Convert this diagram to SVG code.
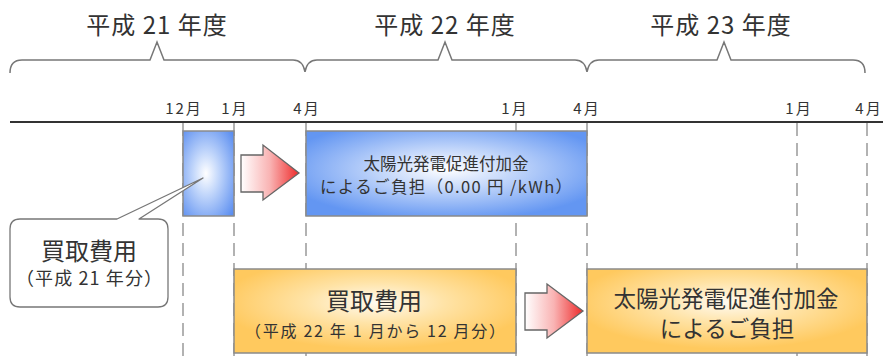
<svg xmlns="http://www.w3.org/2000/svg" width="883" height="362" viewBox="0 0 883 362">
<style>
text{font-family:"Noto Sans CJK JP","Noto Sans",sans-serif;fill:#333;}
.yr{font-size:24px;text-anchor:middle;letter-spacing:1px;}
.mo{font-size:15px;text-anchor:middle;letter-spacing:2px;}
.dash{stroke:#999;stroke-width:1.5;stroke-dasharray:13 7;fill:none;}
.box{stroke:#8a8a8a;stroke-width:1.5;}
.arrow{stroke:#666;stroke-width:1.3;fill:url(#red);}
.t{text-anchor:middle;}
</style>
<defs>
<radialGradient id="blue1" cx="0.45" cy="0.5" r="0.7">
<stop offset="0" stop-color="#ffffff"/>
<stop offset="0.35" stop-color="#c4d8fb"/>
<stop offset="1" stop-color="#5b8ef0"/>
</radialGradient>
<radialGradient id="blue2" cx="0.5" cy="0.45" r="0.6">
<stop offset="0" stop-color="#ffffff"/>
<stop offset="0.4" stop-color="#c2d6fa"/>
<stop offset="1" stop-color="#6396f2"/>
</radialGradient>
<radialGradient id="orange" cx="0.5" cy="0.4" r="0.55">
<stop offset="0" stop-color="#fffaf0"/>
<stop offset="0.45" stop-color="#ffe3a6"/>
<stop offset="1" stop-color="#ffc95e"/>
</radialGradient>
<linearGradient id="red" x1="0" y1="0" x2="1" y2="0">
<stop offset="0" stop-color="#ffffff"/>
<stop offset="0.5" stop-color="#f9b3b3"/>
<stop offset="1" stop-color="#ee2a2a"/>
</linearGradient>
</defs>

<g id="years">
<text class="yr" x="157" y="34">平成 21 年度</text>
<text class="yr" x="445" y="34">平成 22 年度</text>
<text class="yr" x="721" y="34">平成 23 年度</text>
</g>

<g id="braces" fill="none" stroke="#777" stroke-width="1.5">
<path d="M10,73 Q10,60 22,60 L150,60 L157,42 L164,60 L293,60 Q303,60 305,72 Q307,60 317,60 L438,60 L445,42 L452,60 L575,60 Q585,60 587,72 Q589,60 599,60 L717,60 L724,42 L731,60 L853,60 Q865,60 865,73"/>
</g>

<g id="months">
<text class="mo" x="184" y="114">12月</text>
<text class="mo" x="235" y="114">1月</text>
<text class="mo" x="307" y="114">4月</text>
<text class="mo" x="515" y="114">1月</text>
<text class="mo" x="587" y="114">4月</text>
<text class="mo" x="799" y="114">1月</text>
<text class="mo" x="869" y="114">4月</text>
</g>

<g id="connectors">
<line x1="10" y1="122" x2="883" y2="122" stroke="#333" stroke-width="2"/>
<line class="dash" x1="183" y1="123" x2="183" y2="362"/>
<line class="dash" x1="234" y1="123" x2="234" y2="362"/>
<line class="dash" x1="306" y1="123" x2="306" y2="362"/>
<line class="dash" x1="516" y1="123" x2="516" y2="362"/>
<line class="dash" x1="587" y1="123" x2="587" y2="362"/>
<line class="dash" x1="797" y1="123" x2="797" y2="362"/>
<line class="dash" x1="867" y1="123" x2="867" y2="362"/>
</g>

<g id="box-blue-small">
<rect class="box" x="183" y="131" width="51" height="85" fill="url(#blue1)"/>
</g>

<g id="arrow1">
<path class="arrow" d="M241,155 L263,155 L263,145 L299,173 L263,200 L263,192 L241,192 Z"/>
</g>

<g id="box-blue-large">
<rect class="box" x="306" y="131" width="281" height="85" fill="url(#blue2)"/>
<text class="t" x="446" y="170" font-size="16.5">太陽光発電促進付加金</text>
<text class="t" x="446" y="193" font-size="16.5" textLength="252" lengthAdjust="spacing">によるご負担（0.00 円 /kWh）</text>
</g>

<g id="callout">
<path d="M117,219 L20,219 Q10,219 10,229 L10,297 Q10,307 20,307 L158,307 Q168,307 168,297 L168,229 Q168,219 158,219 L139,219 L203,178 Z" fill="#fff" stroke="#777" stroke-width="1.3" stroke-linejoin="round"/>
<text class="t" x="89" y="260" font-size="24">買取費用</text>
<text class="t" x="89" y="285" font-size="18" textLength="146" lengthAdjust="spacing">（平成 21 年分）</text>
</g>

<g id="box-orange-1">
<rect class="box" x="234" y="269" width="282" height="84" fill="url(#orange)"/>
<text class="t" x="374" y="310" font-size="24">買取費用</text>
<text class="t" x="375" y="337" font-size="16" textLength="260" lengthAdjust="spacing">（平成 22 年 1 月から 12 月分）</text>
</g>

<g id="arrow2">
<path class="arrow" d="M525,293 L547,293 L547,284 L583,311 L547,338 L547,330 L525,330 Z"/>
</g>

<g id="box-orange-2">
<rect class="box" x="587" y="269" width="280" height="84" fill="url(#orange)"/>
<text class="t" x="726" y="307" font-size="22.5">太陽光発電促進付加金</text>
<text class="t" x="727" y="337" font-size="22.5">によるご負担</text>
</g>
</svg>
